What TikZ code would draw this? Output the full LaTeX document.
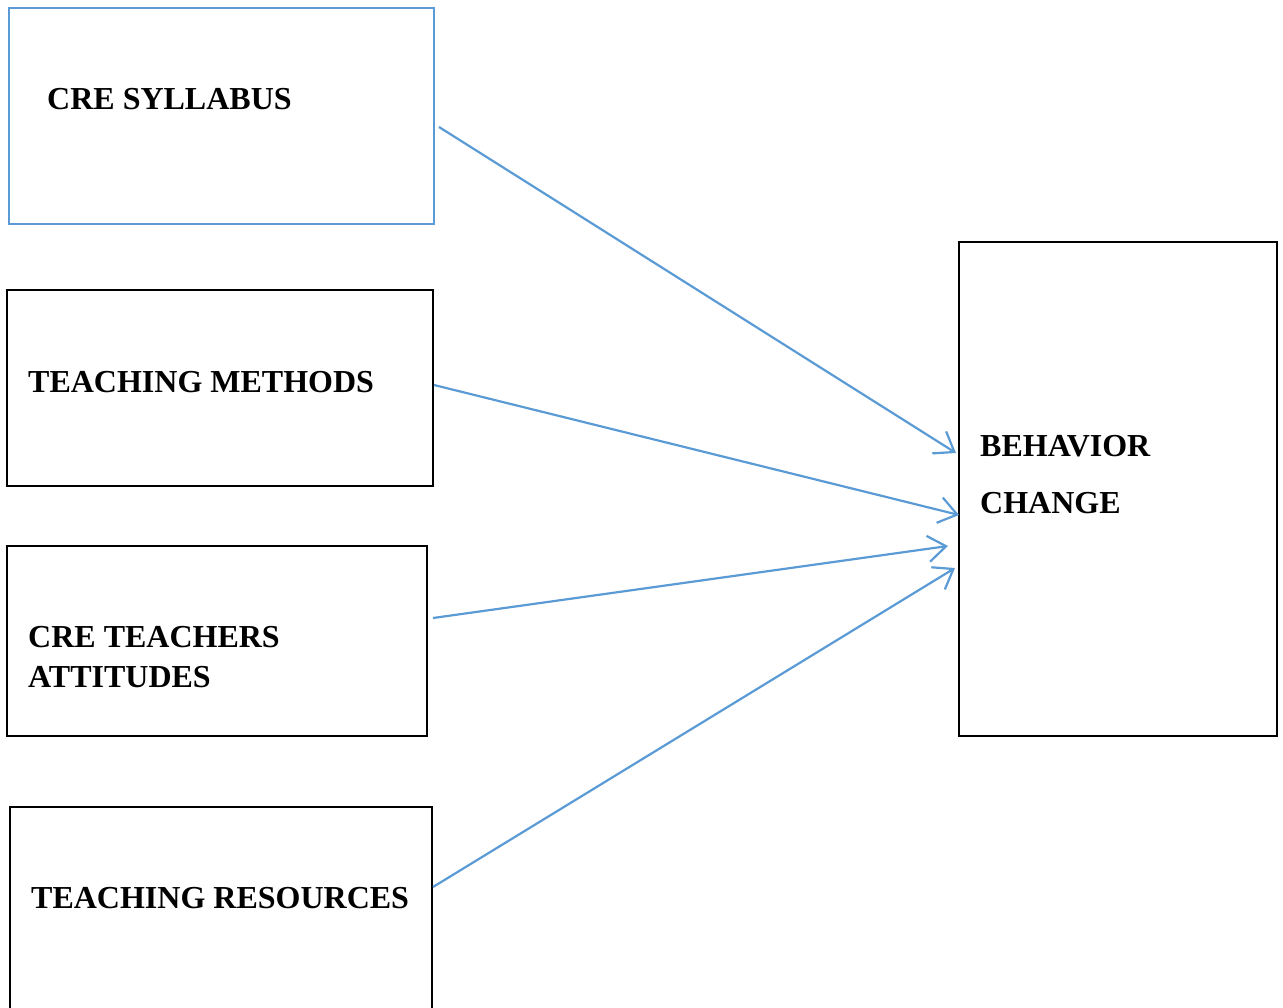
\documentclass[tikz,border=0pt]{standalone}
\usepackage{fontspec}
\setmainfont{Liberation Serif}
\usetikzlibrary{arrows.meta,calc}
\definecolor{linkblue}{HTML}{5B9BD5}
\begin{document}
\begin{tikzpicture}[x=1pt,y=-1pt,
  box/.style={draw=black,line width=2pt,rectangle,anchor=north west,inner sep=0pt,outer sep=0pt},
  bluebox/.style={box,draw=linkblue},
  label/.style={anchor=base west,inner sep=0pt,font=\fontsize{32}{40}\selectfont\bfseries},
  link/.style={draw=linkblue,line width=2.2pt,-{Straight Barb[length=18pt,width=26pt,line width=2.2pt]}}]
\useasboundingbox (0,0) rectangle (1283,1008);
\clip (0,0) rectangle (1283,1008);
% input boxes
\node[bluebox,minimum width=425pt,minimum height=216pt] (syl) at (9,8) {};
\node[box,minimum width=426pt,minimum height=196pt] (meth) at (7,290) {};
\node[box,minimum width=420pt,minimum height=190pt] (att) at (7,546) {};
\node[box,minimum width=422pt,minimum height=240pt] (res) at (10,807) {};
% outcome box
\node[box,minimum width=318pt,minimum height=494pt] (beh) at (959,242) {};
% labels
\node[label] (tsyl) at (47,110) {CRE SYLLABUS};
\node[label] (tmeth) at (28,392) {TEACHING METHODS};
\node[label] (tatt1) at (28,647) {CRE TEACHERS};
\node[label] (tatt2) at (28,687) {ATTITUDES};
\node[label] (tres) at (31,908) {TEACHING RESOURCES};
\node[label] (tbeh1) at (980,456) {BEHAVIOR};
\node[label] (tbeh2) at (980,513) {CHANGE};
% connectors
\coordinate (s1) at ($(syl.north east)+(5,119)$);
\coordinate (e1) at ($(beh.north west)+(-3,211)$);
\coordinate (s2) at ($(meth.north east)+(1,95)$);
\coordinate (e2) at ($(beh.north west)+(0,273)$);
\coordinate (s3) at ($(att.north east)+(6,72)$);
\coordinate (e3) at ($(beh.north west)+(-11,304)$);
\coordinate (s4) at ($(res.north east)+(1,80)$);
\coordinate (e4) at ($(beh.north west)+(-4,326)$);
\draw[link] (s1) -- (e1);
\draw[link] (s2) -- (e2);
\draw[link] (s3) -- (e3);
\draw[link] (s4) -- (e4);
\end{tikzpicture}
\end{document}
